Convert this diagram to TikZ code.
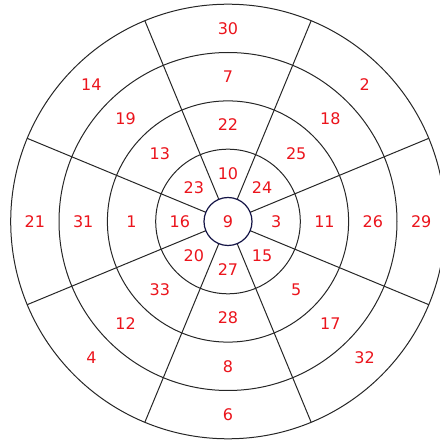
\documentclass[tikz,border=0pt]{standalone}
\usepackage{fontspec}
\setmainfont{DejaVu Sans}
\usetikzlibrary{calc}
\definecolor{lbl}{RGB}{235,20,28}
\definecolor{hub}{RGB}{20,20,70}
\begin{document}
\begin{tikzpicture}[x=1pt,y=1pt,
  ring/.style={draw=black!85,line width=1pt},
  spoke/.style={draw=black!85,line width=1pt},
  hubc/.style={draw=hub,line width=1.2pt},
  num/.style={text=lbl,font=\fontsize{16}{19}\selectfont,inner sep=0pt}]
\useasboundingbox (0,0) rectangle (440,440);
\clip (0,0) rectangle (440,440);
\coordinate (c) at (228,218.5);
\foreach \r in {72.3,120.6,169,217.3} \draw[ring] (c) circle[radius=\r];
\foreach \a in {22.5,67.5,...,360} \draw[spoke] ($(c)+(\a:24)$) -- ($(c)+(\a:217.3)$);
\draw[hubc,fill=white] (c) circle[radius=24];
\node[num] (n9) at (c) {9};
\foreach \a/\p/\q/\s/\t in {90/10/22/7/30,45/24/25/18/2,0/3/11/26/29,-45/15/5/17/32,-90/27/28/8/6,-135/20/33/12/4,180/16/1/31/21,135/23/13/19/14}{
  \node[num] (a\p) at ($(c)+(\a:48.2)$) {\p};
  \node[num] (b\q) at ($(c)+(\a:96.5)$) {\q};
  \node[num] (s\s) at ($(c)+(\a:144.8)$) {\s};
  \node[num] (t\t) at ($(c)+(\a:193.2)$) {\t};
}
\end{tikzpicture}
\end{document}
